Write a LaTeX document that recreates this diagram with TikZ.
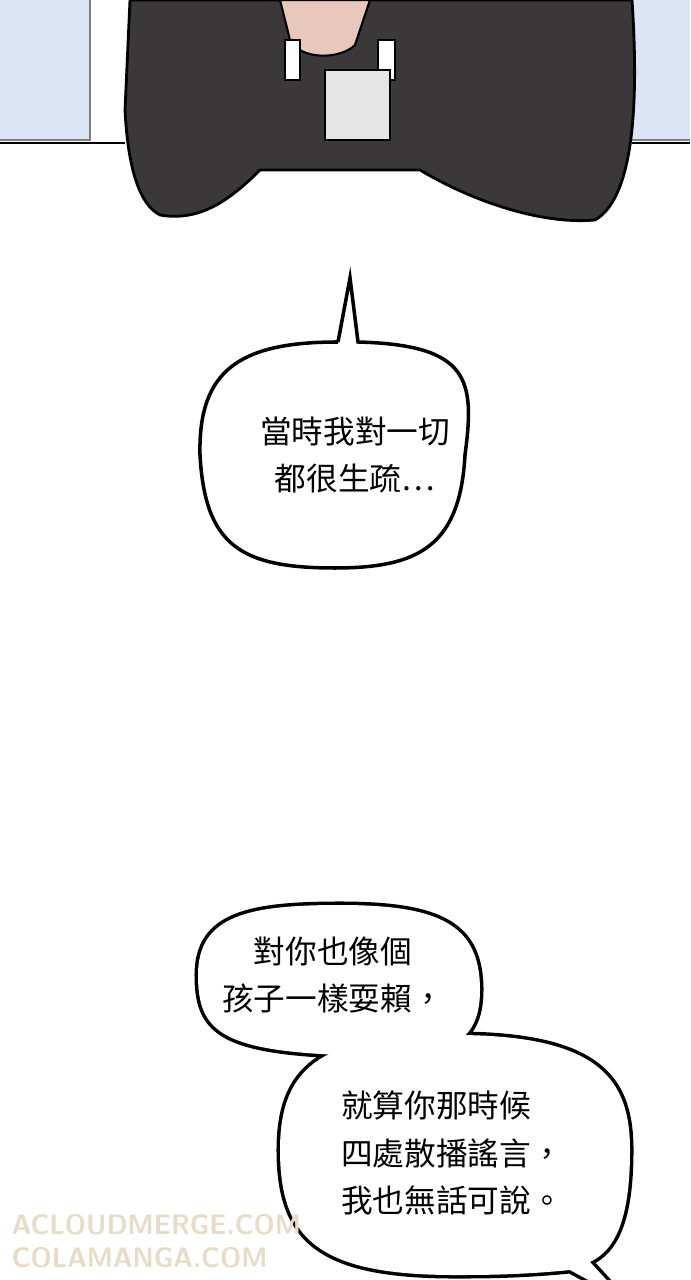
\documentclass[tikz,border=0pt]{standalone}
\usepackage{fontspec}
\newfontfamily\cjk{Noto Sans CJK TC}
\definecolor{skyblue}{HTML}{DCE4F6}
\definecolor{jacket}{HTML}{3A3838}
\definecolor{skin}{HTML}{E8C8BC}
\definecolor{wmark}{HTML}{E8DCC8}
\tikzset{
  talk/.style={font=\cjk\fontsize{9}{13.5}\selectfont, align=center},
  wmtext/.style={font=\sffamily\bfseries\fontsize{8}{9}\selectfont, text=wmark, draw=none, xscale=0.95},
}
\begin{document}
\begin{tikzpicture}[x=0.01cm,y=-0.01cm]
\useasboundingbox (0,0) rectangle (690,1280);
\fill[white] (0,0) rectangle (690,1280);

% Fondo de la escena
\fill[skyblue] (0,0) rectangle (90,140);
\fill[skyblue] (600,0) rectangle (690,140);
\draw[gray, line width=0.6pt] (90,0) -- (90,140) -- (0,140);
\draw[gray, line width=0.6pt] (600,0) -- (600,140) -- (690,140);

% Chaqueta
\filldraw[fill=jacket, draw=black, line width=0.8pt]
  (130,0) -- (125,110) .. controls (128,170) and (140,205) .. (160,215)
  .. controls (200,222) and (230,200) .. (260,170)
  -- (420,170) .. controls (470,200) and (540,225) .. (595,220)
  .. controls (630,200) and (640,120) .. (632,0) -- cycle;
\filldraw[fill=skin, draw=black, line width=0.6pt]
  (280,0) -- (290,40) .. controls (300,60) and (340,60) .. (355,45) -- (370,0) -- cycle;
\filldraw[fill=white, draw=black, line width=0.5pt] (285,40) rectangle (300,80);
\filldraw[fill=white, draw=black, line width=0.5pt] (378,40) rectangle (395,80);
\filldraw[fill=gray!20, draw=black, line width=0.6pt] (325,70) rectangle (390,140);
\draw[black, line width=0.6pt] (0,143) -- (125,143);
\draw[black, line width=0.6pt] (632,143) -- (690,143);

% Globo 1
\filldraw[fill=white, draw=black, line width=1pt]
  (338,342) -- (350,278) -- (358,342)
  .. controls (470,345) and (475,380) .. (465,455)
  .. controls (460,545) and (420,568) .. (335,568)
  .. controls (240,568) and (205,545) .. (200,455)
  .. controls (198,370) and (240,342) .. (338,342);
\node[talk] (uno) at (355,455) {當時我對一切\\都很生疏…};

% Globo 2
\begin{scope}[line width=2pt]
  \draw (198,975) .. controls (198,915) and (250,905) .. (340,905)
    .. controls (440,905) and (480,925) .. (480,990)
    .. controls (480,1050) and (440,1060) .. (340,1055)
    .. controls (220,1050) and (198,1030) .. (198,975);
  \draw (280,1150) .. controls (280,1060) and (330,1035) .. (455,1035)
    .. controls (600,1035) and (630,1080) .. (630,1150)
    .. controls (630,1220) and (615,1250) .. (590,1262)
    -- (625,1300) -- (570,1270)
    .. controls (520,1275) and (480,1275) .. (455,1275)
    .. controls (320,1275) and (280,1240) .. (280,1150);
\end{scope}
\begin{scope}
  \fill[white] (198,975) .. controls (198,915) and (250,905) .. (340,905)
    .. controls (440,905) and (480,925) .. (480,990)
    .. controls (480,1050) and (440,1060) .. (340,1055)
    .. controls (220,1050) and (198,1030) .. (198,975);
  \fill[white] (280,1150) .. controls (280,1060) and (330,1035) .. (455,1035)
    .. controls (600,1035) and (630,1080) .. (630,1150)
    .. controls (630,1220) and (615,1250) .. (590,1262)
    -- (625,1300) -- (570,1270)
    .. controls (520,1275) and (480,1275) .. (455,1275)
    .. controls (320,1275) and (280,1240) .. (280,1150);
\end{scope}
\node[talk] (dos) at (333,975) {對你也像個\\孩子一樣耍賴，};
\node[talk, align=left] (tres) at (452,1153) {就算你那時候\\四處散播謠言，\\我也無話可說。};

% Marca
\node[wmtext, anchor=west] (m1) at (0,1225) {ACLOUDMERGE.COM};
\node[wmtext, anchor=west] (m2) at (0,1258) {COLAMANGA.COM};
\end{tikzpicture}
\end{document}
